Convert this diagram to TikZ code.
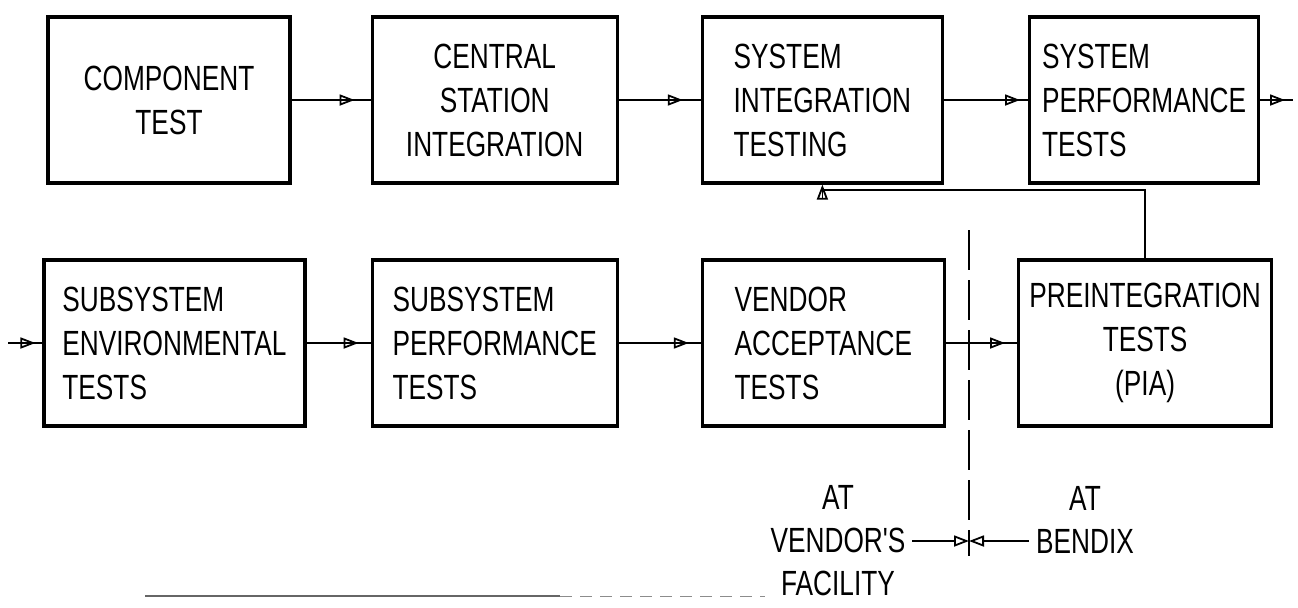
\documentclass[tikz,border=0pt]{standalone}
\usepackage{fontspec}
\newfontfamily\chartfont{Liberation Sans}[FakeStretch=0.75]
\usetikzlibrary{positioning,arrows.meta,decorations.markings}

\begin{document}
\begin{tikzpicture}[
    x=0.5pt, y=-0.5pt,
    font=\chartfont\fontsize{17.5}{22}\selectfont,
    stage/.style={draw, line width=1.6pt, minimum height=83pt, inner sep=2pt},
    lstage/.style={stage, align=left},
    cstage/.style={stage, align=center},
    op/.style={line width=0.9pt, postaction={decorate},
               decoration={markings, mark=at position -#1 with
                 {\arrow{Triangle[open, length=7.5pt, width=5.5pt]}}}},
    op/.default=6pt,
    opend/.style={line width=0.9pt, -{Triangle[open, length=7.5pt, width=5.5pt]}},
    divider/.style={line width=1.1pt, dash pattern=on 20pt off 5pt},
    sitelbl/.style={align=center, font=\chartfont\fontsize{17.5}{21.5}\selectfont},
  ]
  \useasboundingbox (0,0) rectangle (1298,607);

  % --- top row: system side ---
  \node[cstage, minimum width=121pt] (comp) at (169,100) {COMPONENT\\TEST};
  \node[cstage, minimum width=122.5pt, right=39.5pt of comp] (csi) {CENTRAL\\STATION\\INTEGRATION};
  \node[lstage, minimum width=120pt, right=41pt of csi] (sit) {SYSTEM\\INTEGRATION\\TESTING};
  \node[lstage, minimum width=114.5pt, right=42pt of sit] (spt) {SYSTEM\\PERFORMANCE\\TESTS};

  % --- bottom row: subsystem side ---
  \node[lstage, minimum width=130.5pt] (env) at (174.5,343) {SUBSYSTEM\\ENVIRONMENTAL\\TESTS};
  \node[lstage, minimum width=122.5pt, right=32pt of env] (ssp) {SUBSYSTEM\\PERFORMANCE\\TESTS};
  \node[lstage, minimum width=121pt, right=41pt of ssp] (vat) {VENDOR\\ACCEPTANCE\\TESTS};
  \node[cstage, minimum width=126.5pt, right=35.5pt of vat] (pre) {PREINTEGRATION\\TESTS\\(PIA)};

  % --- free ends ---
  \coordinate (feed) at (8,343);
  \coordinate (exit) at (1293,100);
  \coordinate (dtop) at (969,230);
  \coordinate (dbot) at (969,556);
  \coordinate (split) at (969,541);

  % --- site labels ---
  \node[sitelbl] (vlab) at (838,541) {AT\\VENDOR'S\\FACILITY};
  \node[sitelbl] (blab) at (1085,520) {AT\\BENDIX};

  % --- arrows: top chain ---
  \draw[op=8pt] (comp) -- (csi);
  \draw[op=9pt] (csi) -- (sit);
  \draw[op=4pt] (sit) -- (spt);
  \draw[op=4pt] (spt) -- (exit);

  % --- arrows: bottom chain ---
  \draw[op=3.5pt] (feed) -- (env);
  \draw[op] (env) -- (ssp);
  \draw[op] (ssp) -- (vat);
  \draw[op] (vat) -- (pre);

  % --- feedback into system integration ---
  \draw[opend] (pre.north) -- ++(0,-68.5) -| (sit.south);

  % --- vendor / bendix boundary ---
  \draw[divider] (dtop) -- (dbot);
  \draw[opend] (vlab.east |- split) -- (split);
  \draw[opend] (blab.west |- split) -- (split);

  % --- faint rule along the bottom edge ---
  \draw[black!60, line width=0.6pt] (145,596) -- (560,596);
  \draw[black!45, line width=0.5pt, dash pattern=on 6pt off 4pt] (560,596) -- (765,596);
\end{tikzpicture}
\end{document}
